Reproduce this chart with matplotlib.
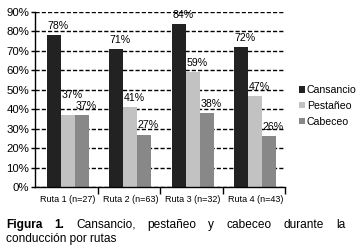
import matplotlib
matplotlib.use('Agg')
import matplotlib.pyplot as plt
from matplotlib.patches import Patch
import numpy as np

plt.rcParams['font.family'] = ['Liberation Sans', 'DejaVu Sans']

categories = ['Ruta 1 (n=27)', 'Ruta 2 (n=63)', 'Ruta 3 (n=32)', 'Ruta 4 (n=43)']
series_names = ['Cansancio', 'Pestañeo', 'Cabeceo']
cansancio = [78, 71, 84, 72]
pestaneo = [37, 41, 59, 47]
cabeceo = [37, 27, 38, 26]
yticks = [0, 10, 20, 30, 40, 50, 60, 70, 80, 90]

colors = ['#222222', '#c2c2c2', '#888888']
# label nudges (pixels) to avoid overlapping labels
nudges = [[0, 0, 0, 0], [11, 0, 0, 0], [0, 0, 0, 0]]

W, H = 361, 249
fig = plt.figure(figsize=(W / 100, H / 100), dpi=100)
ax = fig.add_axes([35 / W, 1 - 187 / H, 250 / W, 175 / H])

x = np.arange(len(categories))
w = 0.225
offs = [-w, 0, w]
shift = 0.025
for i, vals in enumerate([cansancio, pestaneo, cabeceo]):
    bars = ax.bar(x + shift + offs[i], vals, w, color=colors[i], zorder=2,
                  label=series_names[i])
    for b, v, n in zip(bars, vals, nudges[i]):
        ax.annotate(f'{v}%', (b.get_x() + b.get_width() / 2, v),
                    xytext=(4, 4 + n), textcoords='offset pixels',
                    ha='center', va='bottom', fontsize=7.6, zorder=3)

ax.set_xlim(-0.5, 3.5)
ax.set_ylim(0, 90)
ax.set_yticks(yticks)
ax.set_yticklabels([f'{t}%' for t in yticks], fontsize=8.2)
ax.yaxis.grid(True, linestyle=(0, (3, 1.5)), color='black', lw=1)
ax.set_axisbelow(True)
for s in ['top', 'right']:
    ax.spines[s].set_visible(False)
ax.spines['left'].set_linewidth(1)
ax.spines['bottom'].set_linewidth(1)
ax.tick_params(axis='y', length=3, width=1, pad=1, color='black')
ax.set_xticks(x + shift)
ax.set_xticklabels(categories, fontsize=6.5)
ax.set_xticks([0.5, 1.5, 2.5, 3.5], minor=True)
ax.tick_params(axis='x', which='major', length=0, pad=6)
ax.tick_params(axis='x', which='minor', length=5, width=1, direction='out')

handles = [Patch(facecolor=c, edgecolor='none') for c in colors]
fig.legend(handles, series_names, loc='upper left',
           bbox_to_anchor=(299 / W, 1 - 85 / H), frameon=False,
           fontsize=7.6, handlelength=0.6, handleheight=0.6,
           handletextpad=0.15, labelspacing=0.55, borderpad=0,
           borderaxespad=0)

# justified caption
renderer = fig.canvas.get_renderer()
line1 = [('Figura', 'bold'), ('1.', 'bold'), ('Cansancio,', 'normal'),
         ('pestañeo', 'normal'), ('y', 'normal'), ('cabeceo', 'normal'),
         ('durante', 'normal'), ('la', 'normal')]
fs = 8.6
x0, x1 = 6, 345
texts = []
for word, wt in line1:
    t = fig.text(0, 1 - 227.5 / H, word, fontsize=fs, fontweight=wt,
                 va='baseline', ha='left')
    texts.append(t)
widths = [t.get_window_extent(renderer).width for t in texts]
gap = (x1 - x0 - sum(widths)) / (len(texts) - 1)
pos = x0
for t, wd in zip(texts, widths):
    t.set_x(pos / W)
    pos += wd + gap
fig.text(x0 / W, 1 - 241.5 / H, 'conducción por rutas', fontsize=fs,
         va='baseline', ha='left')

fig.savefig('out.png', dpi=100)
